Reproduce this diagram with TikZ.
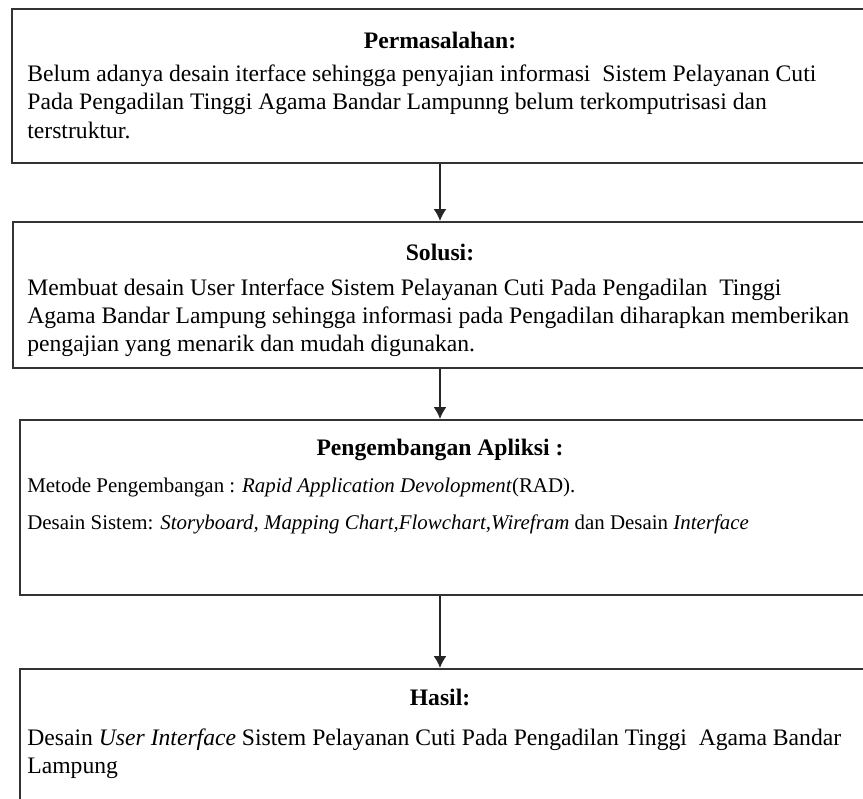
\documentclass[tikz,border=0pt]{standalone}
\usepackage{fontspec}
\setmainfont{Liberation Serif}
\usetikzlibrary{arrows.meta,fit}
\begin{document}
\begin{tikzpicture}[x=0.55pt,y=-0.55pt,
  box/.style={draw=black!80, line width=1.2pt, inner sep=0pt},
  txt/.style={anchor=base west, inner sep=0pt, font=\fontsize{13}{15}\selectfont},
  stxt/.style={anchor=base west, inner sep=0pt, font=\fontsize{11.5}{13}\selectfont},
  head/.style={anchor=base, inner sep=0pt, font=\fontsize{13}{15}\selectfont\bfseries},
  arr/.style={-{Latex[length=6.5pt,width=7pt]}, line width=0.6pt, draw=black!85}]
\useasboundingbox (0,0) rectangle (863,799);
\clip (0,0) rectangle (863,799);
% boxes
\node[box, fit={(12,9) (890,163)}] (b1) {};
\node[box, fit={(13,222) (890,368)}] (b2) {};
\node[box, fit={(20,420) (890,595)}] (b3) {};
\node[box, fit={(20,669) (890,830)}] (b4) {};
% connectors
\coordinate (ax) at (440,0);
\draw[arr] (b1.south -| ax) -- (b2.north -| ax);
\draw[arr] (b2.south -| ax) -- (b3.north -| ax);
\draw[arr] (b3.south -| ax) -- (b4.north -| ax);
% box 1
\node[head] (h1) at (440,49) {Permasalahan:};
\node[txt] (t1a) at (27,82) {Belum adanya desain iterface sehingga penyajian informasi\ \ Sistem Pelayanan Cuti};
\node[txt] (t1b) at (27,110) {Pada Pengadilan Tinggi Agama Bandar Lampunng belum terkomputrisasi dan};
\node[txt] (t1c) at (27,138) {terstruktur.};
% box 2
\node[head] (h2) at (440,260) {Solusi:};
\node[txt] (t2a) at (27,295) {Membuat desain User Interface Sistem Pelayanan Cuti Pada Pengadilan\ \ Tinggi};
\node[txt] (t2b) at (27,323) {Agama Bandar Lampung sehingga informasi pada Pengadilan diharapkan memberikan};
\node[txt] (t2c) at (27,351) {pengajian yang menarik dan mudah digunakan.};
% box 3
\node[head] (h3) at (440,455) {Pengembangan Apliksi :};
\node[stxt] (t3a) at (27,492) {Metode Pengembangan : \textit{Rapid Application Devolopment}(RAD).};
\node[stxt] (t3b) at (27,529) {Desain Sistem: \textit{Storyboard, Mapping Chart,Flowchart,Wirefram} dan Desain \textit{Interface}};
% box 4
\node[head] (h4) at (440,705) {Hasil:};
\node[txt] (t4a) at (27,745) {Desain \textit{User Interface} Sistem Pelayanan Cuti Pada Pengadilan Tinggi\ \ Agama Bandar};
\node[txt] (t4b) at (27,773) {Lampung};
\end{tikzpicture}
\end{document}
